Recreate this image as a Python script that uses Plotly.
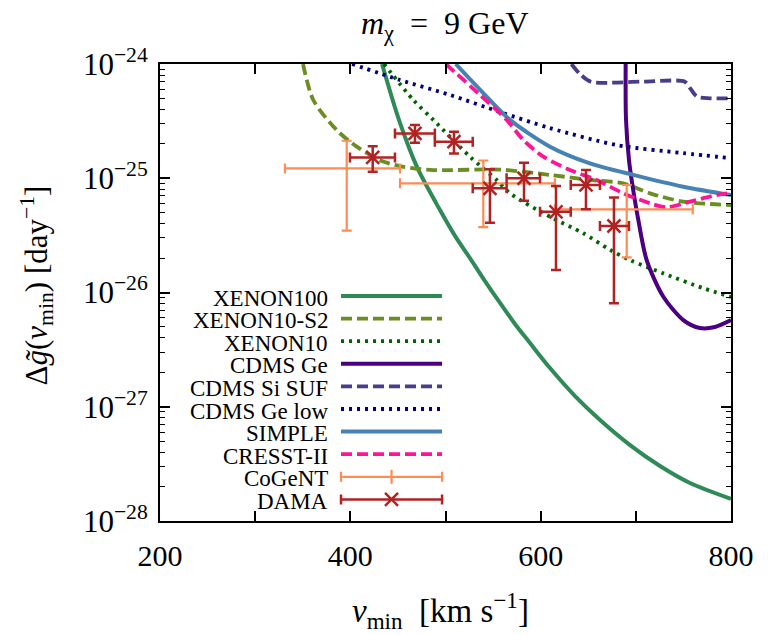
import plotly.graph_objects as go

# ---------------- data ----------------
# exclusion curves: v_min [km/s], Delta g~ [1/day]
xenon100_v = [433.3, 451.1, 470.1, 494.2, 510.0, 525.7, 541.5, 557.3, 573.0, 588.8, 609.8, 636.1, 662.4, 693.9, 725.4, 756.9, 800]
xenon100_g = [1.0e-24, 3.24e-25, 1.25e-25, 5.27e-26, 3.13e-26, 2.00e-26, 1.26e-26, 8.10e-27, 5.30e-27, 3.61e-27, 2.18e-27, 1.24e-27, 7.66e-28, 4.62e-28, 3.03e-28, 2.15e-28, 1.56e-28]

xenon10s2_v = [350.3, 361.1, 385.7, 406.7, 434.6, 455.7, 487.2, 557.3, 609.8, 651.8, 686.8, 714.9, 749.9, 800]
xenon10s2_g = [1.0e-24, 4.84e-25, 2.64e-25, 1.89e-25, 1.40e-25, 1.26e-25, 1.18e-25, 1.19e-25, 1.07e-25, 9.66e-26, 9.04e-26, 7.38e-26, 6.24e-26, 5.83e-26]

xenon10_v = [435.4, 466.2, 487.2, 525.7, 553.8, 567.8, 609.8, 644.8, 672.9, 693.9, 728.9, 770.9, 800]
xenon10_g = [1.0e-24, 4.84e-25, 3.24e-25, 1.545e-25, 9.66e-26, 7.38e-26, 4.60e-26, 3.30e-26, 2.36e-26, 1.92e-26, 1.47e-26, 1.09e-26, 9.14e-27]

cdmsge_v = [689.3, 689.7, 692.8, 696.7, 702.6, 711.4, 728.9, 749.9, 767.3, 783.1, 800]
cdmsge_g = [1.0e-24, 3.24e-25, 1.445e-25, 8.43e-26, 4.32e-26, 1.92e-26, 9.18e-27, 5.74e-27, 4.89e-27, 4.99e-27, 5.74e-27]

cdmssi_v = [632.3, 641.3, 652.9, 704.4, 751.4, 756.9, 764.3, 777.9, 800]
cdmssi_g = [1.0e-24, 8.17e-25, 7.0e-25, 7.0e-25, 7.0e-25, 6.17e-25, 5.18e-25, 5.01e-25, 5.01e-25]

cdmsgelow_v = [401.8, 452.2, 504.7, 557.3, 609.8, 680.2, 749.6, 800]
cdmsgelow_g = [1.0e-24, 7.24e-25, 5.36e-25, 3.80e-25, 2.75e-25, 1.95e-25, 1.66e-25, 1.50e-25]

simple_v = [510.7, 541.5, 567.8, 609.8, 651.8, 697.3, 749.9, 800]
simple_g = [1.0e-24, 5.36e-25, 3.24e-25, 1.89e-25, 1.35e-25, 1.07e-25, 8.43e-26, 7.13e-26]

cresst_v = [500.3, 536.3, 564.3, 581.8, 602.8, 630.8, 658.9, 686.8, 714.9, 732.4, 756.9, 785.0, 800]
cresst_g = [1.0e-24, 5.36e-25, 3.24e-25, 2.16e-25, 1.545e-25, 1.18e-25, 9.66e-26, 7.38e-26, 6.04e-26, 5.57e-26, 6.24e-26, 7.13e-26, 7.43e-26]

# CoGeNT bins
cogent_v = [396.2, 539.7, 690.4]
cogent_v_lo = [331.3, 452.2, 615.0]
cogent_v_hi = [452.2, 615.0, 759.8]
cogent_g = [1.22e-25, 9.03e-26, 5.35e-26]
cogent_g_lo = [3.48e-26, 3.73e-26, 2.03e-26]
cogent_g_hi = [2.13e-25, 1.43e-25, 8.73e-26]

# DAMA bins
dama_v = [423.5, 467.9, 508.9, 546.7, 582.5, 616.1, 647.6, 677.0]
dama_v_lo = [399.6, 446.9, 488.8, 528.6, 564.2, 599.3, 631.6, 662.3]
dama_v_hi = [446.9, 488.8, 528.6, 564.2, 599.3, 631.6, 662.3, 692.8]
dama_g = [1.52e-25, 2.47e-25, 2.09e-25, 8.17e-26, 1.0e-25, 5.09e-26, 8.73e-26, 3.82e-26]
dama_g_lo = [1.14e-25, 2.05e-25, 1.65e-25, 4.08e-26, 6.37e-26, 1.57e-26, 5.35e-26, 8.04e-27]
dama_g_hi = [1.91e-25, 2.92e-25, 2.55e-25, 1.20e-25, 1.37e-25, 8.55e-26, 1.18e-25, 6.8e-26]

legend_labels = ["XENON100", "XENON10-S2", "XENON10", "CDMS Ge", "CDMS Si SUF",
                 "CDMS Ge low", "SIMPLE", "CRESST-II", "CoGeNT", "DAMA"]

x_tickvals = [200, 400, 600, 800]
x_ticktext = ["200", "400", "600", "800"]
x_minor_tickvals = [300, 500, 700]
y_tickvals = [1e-24, 1e-25, 1e-26, 1e-27, 1e-28]
y_ticktext = ["10<sup>−24</sup>", "10<sup>−25</sup>", "10<sup>−26</sup>", "10<sup>−27</sup>", "10<sup>−28</sup>"]

# ---------------- styles ----------------
FONT = "Liberation Serif, Times New Roman, serif"
C_X100 = "#2e8b57"
C_XS2 = "#6b8e23"
C_X10 = "#006400"
C_CGE = "#4b0082"
C_CSI = "#483d8b"
C_CGL = "#000080"
C_SIM = "#4682b4"
C_CRE = "#ff1493"
C_COG = "#ff8c55"
C_DAMA = "#b22222"

DASH = "11px,5px"
DOT = "3px,5px"

curves = [
    (xenon100_v, xenon100_g, C_X100, "solid", 4),
    (xenon10s2_v, xenon10s2_g, C_XS2, DASH, 3.8),
    (xenon10_v, xenon10_g, C_X10, DOT, 3.8),
    (cdmsge_v, cdmsge_g, C_CGE, "solid", 4),
    (cdmssi_v, cdmssi_g, C_CSI, DASH, 3.8),
    (cdmsgelow_v, cdmsgelow_g, C_CGL, DOT, 3.8),
    (simple_v, simple_g, C_SIM, "solid", 4),
    (cresst_v, cresst_g, C_CRE, DASH, 3.8),
]

fig = go.Figure()
for v, g, col, dash, w in curves:
    fig.add_trace(go.Scatter(x=v, y=g, mode="lines",
                             line=dict(color=col, dash=dash, width=w, shape="spline", smoothing=0.8),
                             showlegend=False, hoverinfo="skip"))

fig.add_trace(go.Scatter(
    x=cogent_v, y=cogent_g, mode="markers", marker=dict(size=1, color=C_COG, opacity=0),
    error_x=dict(type="data", symmetric=False,
                 array=[h - c for h, c in zip(cogent_v_hi, cogent_v)],
                 arrayminus=[c - l for l, c in zip(cogent_v_lo, cogent_v)],
                 color=C_COG, thickness=2.2, width=5),
    error_y=dict(type="data", symmetric=False,
                 array=[h - c for h, c in zip(cogent_g_hi, cogent_g)],
                 arrayminus=[c - l for l, c in zip(cogent_g_lo, cogent_g)],
                 color=C_COG, thickness=2.2, width=5),
    showlegend=False, hoverinfo="skip"))

fig.add_trace(go.Scatter(
    x=dama_v, y=dama_g, mode="markers",
    marker=dict(symbol="x-thin", size=13, color=C_DAMA, line=dict(color=C_DAMA, width=2.5)),
    error_x=dict(type="data", symmetric=False,
                 array=[h - c for h, c in zip(dama_v_hi, dama_v)],
                 arrayminus=[c - l for l, c in zip(dama_v_lo, dama_v)],
                 color=C_DAMA, thickness=2.5, width=5),
    error_y=dict(type="data", symmetric=False,
                 array=[h - c for h, c in zip(dama_g_hi, dama_g)],
                 arrayminus=[c - l for l, c in zip(dama_g_lo, dama_g)],
                 color=C_DAMA, thickness=2.5, width=5),
    showlegend=False, hoverinfo="skip"))

# ---------------- hand-made legend (labels left of samples) ----------------
leg_styles = [(C_X100, "solid", 4), (C_XS2, DASH, 3.8), (C_X10, DOT, 3.8), (C_CGE, "solid", 4),
              (C_CSI, DASH, 3.8), (C_CGL, DOT, 3.8), (C_SIM, "solid", 4), (C_CRE, DASH, 3.8)]
row_y0 = 0.4923
row_dy = 0.04945
lx0, lx1 = 0.317, 0.494
lxm = (lx0 + lx1) / 2
annotations = []
for i, lab in enumerate(legend_labels):
    yy = row_y0 - i * row_dy
    annotations.append(dict(text=lab, x=0.2977, y=yy, xref="paper", yref="paper",
                            xanchor="right", yanchor="middle", yshift=-2, showarrow=False,
                            font=dict(family=FONT, size=23, color="black")))
    if i < 8:
        col, dash, w = leg_styles[i]
        fig.add_trace(go.Scatter(x=[lx0, lx1], y=[yy, yy], mode="lines", xaxis="x2", yaxis="y2",
                                 line=dict(color=col, dash=dash, width=w),
                                 showlegend=False, hoverinfo="skip"))
    elif i == 8:
        fig.add_trace(go.Scatter(x=[lxm], y=[yy], mode="markers", xaxis="x2", yaxis="y2",
                                 marker=dict(symbol="line-ns", size=10, color=C_COG,
                                             line=dict(color=C_COG, width=2.2)),
                                 error_x=dict(type="data", array=[lx1 - lxm], color=C_COG,
                                              thickness=2.2, width=5),
                                 showlegend=False, hoverinfo="skip"))
    else:
        fig.add_trace(go.Scatter(x=[lxm], y=[yy], mode="markers", xaxis="x2", yaxis="y2",
                                 marker=dict(symbol="x-thin", size=13, color=C_DAMA,
                                             line=dict(color=C_DAMA, width=2.5)),
                                 error_x=dict(type="data", array=[lx1 - lxm], color=C_DAMA,
                                              thickness=2.5, width=5),
                                 showlegend=False, hoverinfo="skip"))

# titles
annotations.append(dict(text="<i>m</i><sub>χ</sub>  =  9 GeV", x=0.499, y=1.085, xref="paper", yref="paper",
                        xanchor="center", yanchor="middle", showarrow=False,
                        font=dict(family=FONT, size=32, color="black")))
annotations.append(dict(text="<i>v</i><sub>min</sub>  [km s<sup>−1</sup>]", x=0.492, y=-0.195,
                        xref="paper", yref="paper", xanchor="center", yanchor="middle", showarrow=False,
                        font=dict(family=FONT, size=33, color="black")))
annotations.append(dict(text="Δ<i>g̃</i>(<i>v</i><sub>min</sub>) [day<sup>−1</sup>]", x=-0.2154, y=0.5155,
                        xref="paper", yref="paper", xanchor="center", yanchor="middle", showarrow=False,
                        textangle=-90, font=dict(family=FONT, size=31, color="black")))

y_minor = [m * 10.0 ** e for e in range(-28, -24) for m in range(2, 10)]

fig.update_layout(
    width=768, height=635,
    margin=dict(l=160, r=37, t=64, b=114),
    paper_bgcolor="white", plot_bgcolor="white",
    showlegend=False,
    annotations=annotations,
    xaxis=dict(range=[200, 800], tickmode="array", tickvals=x_tickvals, ticktext=x_ticktext,
               ticks="inside", ticklen=10, tickwidth=1.5, tickcolor="black",
               showline=True, linecolor="black", linewidth=2, mirror="ticks",
               showgrid=False, zeroline=False, ticklabelstandoff=7,
               minor=dict(tickmode="array", tickvals=x_minor_tickvals, ticks="inside", ticklen=10,
                          tickwidth=1.5, tickcolor="black", showgrid=False),
               tickfont=dict(family=FONT, size=30, color="black")),
    yaxis=dict(type="log", range=[-28, -24], tickmode="array", tickvals=y_tickvals, ticktext=y_ticktext,
               ticks="inside", ticklen=10, tickwidth=1.5, tickcolor="black",
               showline=True, linecolor="black", linewidth=2, mirror="ticks",
               showgrid=False, zeroline=False, ticklabelstandoff=4,
               minor=dict(tickmode="array", tickvals=y_minor, ticks="inside", ticklen=5,
                          tickwidth=1.2, tickcolor="black", showgrid=False),
               tickfont=dict(family=FONT, size=31, color="black")),
    xaxis2=dict(overlaying="x", range=[0, 1], visible=False),
    yaxis2=dict(overlaying="y", range=[0, 1], visible=False),
)

fig.write_html("out.html")
